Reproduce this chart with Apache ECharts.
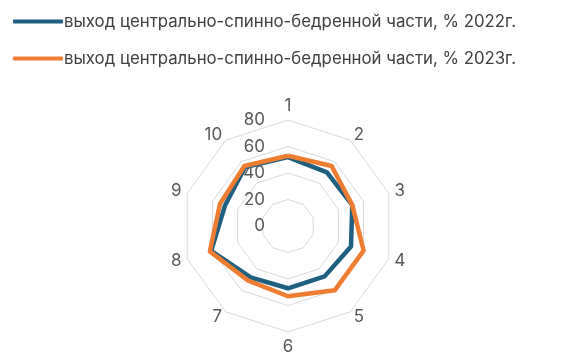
<!DOCTYPE html>
<html>
<head>
<meta charset="utf-8">
<script src="https://cdn.jsdelivr.net/npm/echarts@6/dist/echarts.min.js"></script>
<style>html,body{margin:0;padding:0;background:#fff}#c{width:569px;height:357px}</style>
</head>
<body>
<div id="c"></div>
<script>
const categories = ['1','2','3','4','5','6','7','8','9','10'];
const seriesNames = ['выход центрально-спинно-бедренной части, % 2022г.', 'выход центрально-спинно-бедренной части, % 2023г.'];
const values2022 = [52, 50, 51, 50, 47, 47, 48, 61, 50, 55];
const values2023 = [53, 56, 51, 60, 60, 53, 51, 62, 54, 56];
const axisMax = 80;
const colors = ['#1F5F7F', '#EE7D31'];

// ECharts lays radar indicators counter-clockwise; reorder so they run clockwise
const order = categories.map((_, i) => (categories.length - i) % categories.length);
const reorder = arr => order.map(i => arr[i]);

const FONT = 'Inter, "Noto Sans", sans-serif';
const chart = echarts.init(document.getElementById('c'), null, {renderer: 'canvas'});
chart.setOption({
  animation: false,
  color: colors,
  legend: {
    orient: 'vertical',
    left: 8,
    top: 8,
    itemGap: 20,
    itemWidth: 50,
    itemHeight: 4,
    icon: 'roundRect',
    textStyle: {fontFamily: FONT, fontSize: 16.8, color: '#404040', padding: [0,0,0,-4]},
    data: seriesNames
  },
  radar: {
    center: [288, 226],
    radius: 106,
    startAngle: 90,
    splitNumber: 4,
    shape: 'polygon',
    axisName: {color: '#595959', fontSize: 17, fontFamily: FONT},
    nameGap: 6,
    splitLine: {lineStyle: {color: '#D9D9D9', width: 1}},
    splitArea: {show: false},
    axisLine: {show: false},
    axisTick: {show: false},
    axisLabel: {show: false, color: '#595959', fontSize: 17, fontFamily: FONT, margin: 23},
    indicator: reorder(categories).map((c, i) => i === 0
      ? {name: c, min: 0, max: axisMax, axisLabel: {show: true}}
      : {name: c, min: 0, max: axisMax})
  },
  series: [{
    type: 'radar',
    symbol: 'none',
    data: [
      {name: seriesNames[0], value: reorder(values2022), lineStyle: {width: 4.5, color: colors[0]}},
      {name: seriesNames[1], value: reorder(values2023), lineStyle: {width: 4.5, color: colors[1]}}
    ]
  }]
});
</script>
</body>
</html>
